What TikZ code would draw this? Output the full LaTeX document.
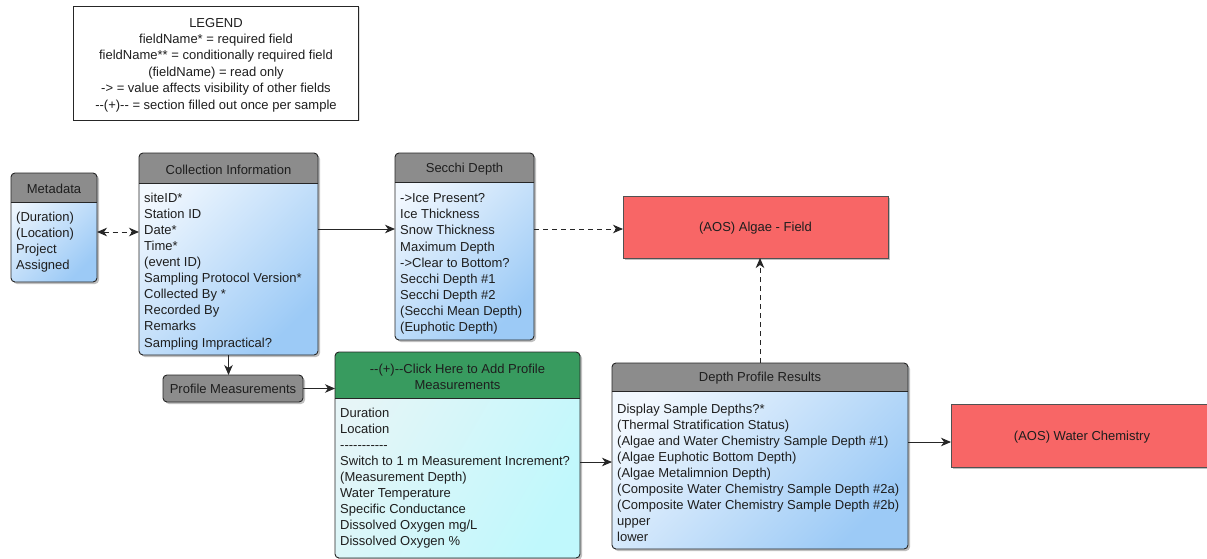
\documentclass[tikz,border=0pt]{standalone}
\usepackage{fontspec}
\setmainfont{Liberation Sans}
\usetikzlibrary{shadows,calc,arrows.meta}
\definecolor{hdrgrey}{HTML}{8C8C8C}
\definecolor{hdrgreen}{HTML}{389B5F}
\definecolor{blueA}{HTML}{F2F8FE}
\definecolor{blueB}{HTML}{9CCAF6}
\definecolor{cyanA}{HTML}{E6F5F7}
\definecolor{cyanB}{HTML}{C0F8FC}
\definecolor{redbox}{HTML}{F86666}
\definecolor{linec}{HTML}{262626}
\definecolor{txtc}{HTML}{1E1E1E}
\tikzset{
  txt/.style={font=\fontsize{13}{16.1}\selectfont, text=txtc, inner sep=0pt},
  shadowed/.style={drop shadow={shadow xshift=2pt, shadow yshift=-2pt, opacity=0.35, fill=black!70}},
  greybody/.style={rectangle, rounded corners=4pt, outer sep=0pt, inner sep=0pt, shadowed,
    top color=blueA, bottom color=blueB, shading angle=45},
  greenbody/.style={rectangle, rounded corners=4pt, outer sep=0pt, inner sep=0pt, shadowed,
    top color=cyanA, bottom color=cyanB, shading angle=60},
  greyhdr/.style={fill=hdrgrey},
  greenhdr/.style={fill=hdrgreen},
  boxline/.style={draw=linec, line width=0.9pt},
  redrect/.style={rectangle, fill=redbox, draw=linec!80, line width=0.9pt, outer sep=0pt, inner sep=0pt, shadowed, txt,
    text height=9.4pt, text depth=0pt},
  tipend/.tip={Stealth[length=10pt,width=8.5pt,inset=3pt]},
  conn/.style={draw=linec, line width=0.9pt, -tipend},
  dconn/.style={conn, dash pattern=on 5pt off 4pt},
}
\def\bodyoff{9.5pt}
\newcommand\umlbox[9]{%
  \node[#7body, minimum width=#4pt, minimum height=#5pt, anchor=north west] (#1) at (#2,#3) {};
  \begin{scope}
    \clip ($(#1.north west)+(-2pt,2pt)$) rectangle ($(#1.north east)+(2pt,-#6pt)$);
    \fill[#7hdr, rounded corners=4pt] (#1.north west) rectangle (#1.south east);
  \end{scope}
  \draw[boxline] ($(#1.north west)+(0,-#6pt)$) -- ($(#1.north east)+(0,-#6pt)$);
  \draw[boxline, rounded corners=4pt] (#1.north west) rectangle (#1.south east);
  \node[txt, align=center] (#1-t) at ($(#1.north)+(0,-0.5*#6pt-1.5pt)$) {#8};
  \node[txt, align=left, anchor=north west] (#1-b) at ($(#1.north west)+(5pt,-#6pt-\bodyoff)$) {#9};
}
\begin{document}
\begin{tikzpicture}[x=1pt,y=-1pt]
\useasboundingbox[fill=white] (0,0) rectangle (1207,559);

% legend
\node[rectangle, draw=linec, line width=0.9pt, fill=white,
  minimum width=285pt, minimum height=114pt, outer sep=0pt,
  drop shadow={shadow xshift=1.5pt, shadow yshift=-1.5pt, opacity=0.2, fill=black!60}]
  (legend) at (215.5,63) {};
\node[txt, align=center, font=\fontsize{13}{16.4}\selectfont] (legendtext) at (216,65)
  {LEGEND\\fieldName* = required field\\fieldName** = conditionally required field\\(fieldName) = read only\\-> = value affects visibility of other fields\\-{}-(+)-{}- = section filled out once per sample};

\umlbox{meta}{11}{173}{86}{109}{29}{grey}{Metadata}{(Duration)\\(Location)\\Project\\Assigned}

\umlbox{col}{139}{153}{179}{202}{30}{grey}{Collection Information}{siteID*\\Station ID\\Date*\\Time*\\(event ID)\\Sampling Protocol Version*\\Collected By *\\Recorded By\\Remarks\\Sampling Impractical?}

\def\bodyoff{11.5pt}
\umlbox{secchi}{395}{153}{139}{187}{29}{grey}{Secchi Depth}{->Ice Present?\\Ice Thickness\\Snow Thickness\\Maximum Depth\\->Clear to Bottom?\\Secchi Depth \#1\\Secchi Depth \#2\\(Secchi Mean Depth)\\(Euphotic Depth)}

\def\bodyoff{9.5pt}
\umlbox{green}{335}{352}{245}{206}{46}{green}{-{}-(+)-{}-Click Here to Add Profile\\Measurements}{Duration\\Location\\-{}-{}-{}-{}-{}-{}-{}-{}-{}-{}-\\Switch to 1 m Measurement Increment?\\(Measurement Depth)\\Water Temperature\\Specific Conductance\\Dissolved Oxygen mg/L\\Dissolved Oxygen \%}

\def\bodyoff{12.5pt}
\umlbox{dpr}{612}{363}{296}{186}{28}{grey}{Depth Profile Results}{Display Sample Depths?*\\(Thermal Stratification Status)\\(Algae and Water Chemistry Sample Depth \#1)\\(Algae Euphotic Bottom Depth)\\(Algae Metalimnion Depth)\\(Composite Water Chemistry Sample Depth \#2a)\\(Composite Water Chemistry Sample Depth \#2b)\\upper\\lower}

% profile measurements button
\node[txt, rectangle, rounded corners=4pt, fill=hdrgrey, draw=linec, line width=0.9pt,
  minimum width=140pt, minimum height=27pt, shadowed, outer sep=0pt,
  text height=9.4pt, text depth=0pt] (pm) at (233,388.5) {Profile Measurements};

% red targets
\node[redrect, minimum width=265pt, minimum height=62pt] (algae) at (755.5,227) {(AOS) Algae - Field};
\node[redrect, minimum width=262pt, minimum height=63pt] (wc) at (1082,435.5) {(AOS) Water Chemistry};

% helper coordinates
\coordinate (r1) at (0,232);
\coordinate (r2) at (0,229);
\coordinate (r3) at (0,462);
\coordinate (r4) at (0,442);

% connectors
\draw[dconn, tipend-tipend] (meta.east |- r1) -- (col.west |- r1);
\draw[conn] (col.east |- r2) -- (secchi.west |- r2);
\draw[dconn] (secchi.east |- r2) -- (algae.west |- r2);
\draw[conn] (col.south) -- (pm.north -| col.south);
\draw[conn] (pm.east) -- (green.west |- pm.east);
\draw[conn] (green.east |- r3) -- (dpr.west |- r3);
\draw[dconn] (dpr.north) -- (algae.south -| dpr.north);
\draw[conn] (dpr.east |- r4) -- (wc.west |- r4);
\end{tikzpicture}
\end{document}
